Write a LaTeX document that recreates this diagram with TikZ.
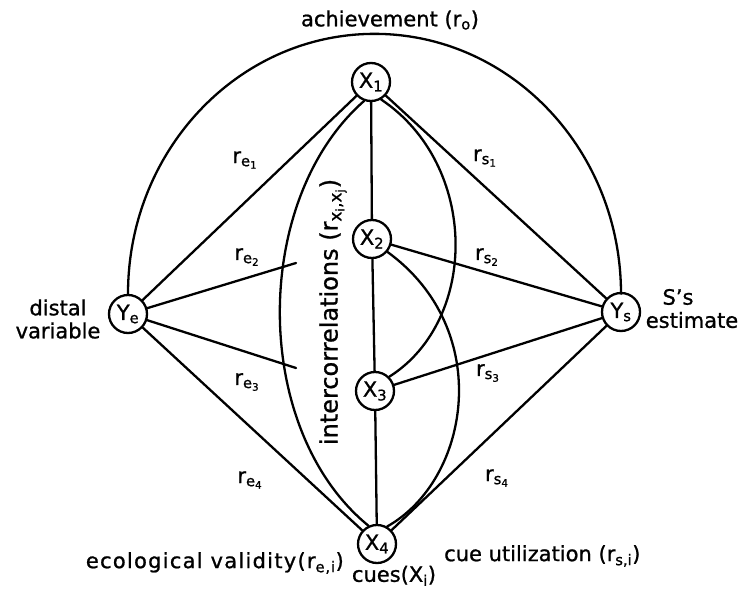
\documentclass[tikz,border=0pt]{standalone}
\usepackage{fontspec}
\setmainfont{DejaVu Sans}[FakeBold=1]
\begin{document}
\begin{tikzpicture}[x=1pt,y=1pt,
  cue/.style={circle, draw, line width=2.3pt, minimum size=38pt, inner sep=0pt, font=\fontsize{21}{21}\selectfont},
  link/.style={line width=2.3pt, line cap=round},
  lbl/.style={font=\fontsize{21}{23}\selectfont, inner sep=0pt},
  rlbl/.style={font=\fontsize{21}{21}\selectfont, inner sep=0pt}]
\useasboundingbox (0,0) rectangle (741,-591);
% nodes
\node[cue] (X1) at (371,-82) {X\textsubscript{1}};
\node[cue] (X2) at (372,-239) {X\textsubscript{2}};
\node[cue] (X3) at (375,-391) {X\textsubscript{3}};
\node[cue] (X4) at (377,-544) {X\textsubscript{4}};
\node[cue] (Ye) at (128,-314) {Y\textsubscript{e}};
\node[cue] (Ys) at (621,-312) {Y\textsubscript{s}};
\coordinate (e2end) at (296,-263);
\coordinate (e3end) at (296,-368);
% achievement arc
\draw[link] (Ye.north) arc[start angle=180, end angle=0, x radius=246.5, y radius=260];
% lens lines
\draw[link] (Ye) -- (X1);
\draw[link] (Ye) -- (e2end);
\draw[link] (Ye) -- (e3end);
\draw[link] (Ye) -- (X4);
\draw[link] (Ys) -- (X1);
\draw[link] (Ys) -- (X2);
\draw[link] (Ys) -- (X3);
\draw[link] (Ys) -- (X4);
\draw[link] (X1) -- (X2);
\draw[link] (X2) -- (X3);
\draw[link] (X3) -- (X4);
% intercorrelation curves
\draw[link] (X1.250) .. controls (251,-200) and (251,-430) .. (X4.115);
\draw[link] (X1.300) .. controls (479,-165) and (479,-320) .. (X3.45);
\draw[link] (X2.320) .. controls (495,-330) and (470,-480) .. (X4.60);
% edge labels
\node[rlbl] (re1) at (245,-160) {r\textsubscript{e\textsubscript{1}}};
\node[rlbl] (re2) at (247,-257) {r\textsubscript{e\textsubscript{2}}};
\node[rlbl] (re3) at (247,-382) {r\textsubscript{e\textsubscript{3}}};
\node[rlbl] (re4) at (250,-480) {r\textsubscript{e\textsubscript{4}}};
\node[rlbl] (rs1) at (485,-158) {r\textsubscript{s\textsubscript{1}}};
\node[rlbl] (rs2) at (487,-257) {r\textsubscript{s\textsubscript{2}}};
\node[rlbl] (rs3) at (488,-373) {r\textsubscript{s\textsubscript{3}}};
\node[rlbl] (rs4) at (497,-478) {r\textsubscript{s\textsubscript{4}}};
% text labels
\node[lbl] (ach) at (390,-20) {achievement (r\textsubscript{o})};
\node[lbl, align=center] (distal) at (58,-319) {distal\\variable};
\node[lbl] (ss) at (678,-297) {S's};
\node[lbl] (est) at (692,-320) {estimate};
\node[lbl, rotate=90, font=\fontsize{24}{24}\selectfont] (inter) at (333,-312) {intercorrelations (r\textsubscript{x\textsubscript{i},x\textsubscript{j}})};
\node[lbl, anchor=east, font=\fontsize{21}{23}\selectfont\addfontfeature{LetterSpace=6}] (eco) at (344,-563) {ecological validity(r\textsubscript{e,i})};
\node[lbl, anchor=west] (util) at (444,-556) {cue utilization (r\textsubscript{s,i})};
\node[lbl, anchor=south] (cues) at (394,-586) {cues(X\textsubscript{i})};
\end{tikzpicture}
\end{document}
